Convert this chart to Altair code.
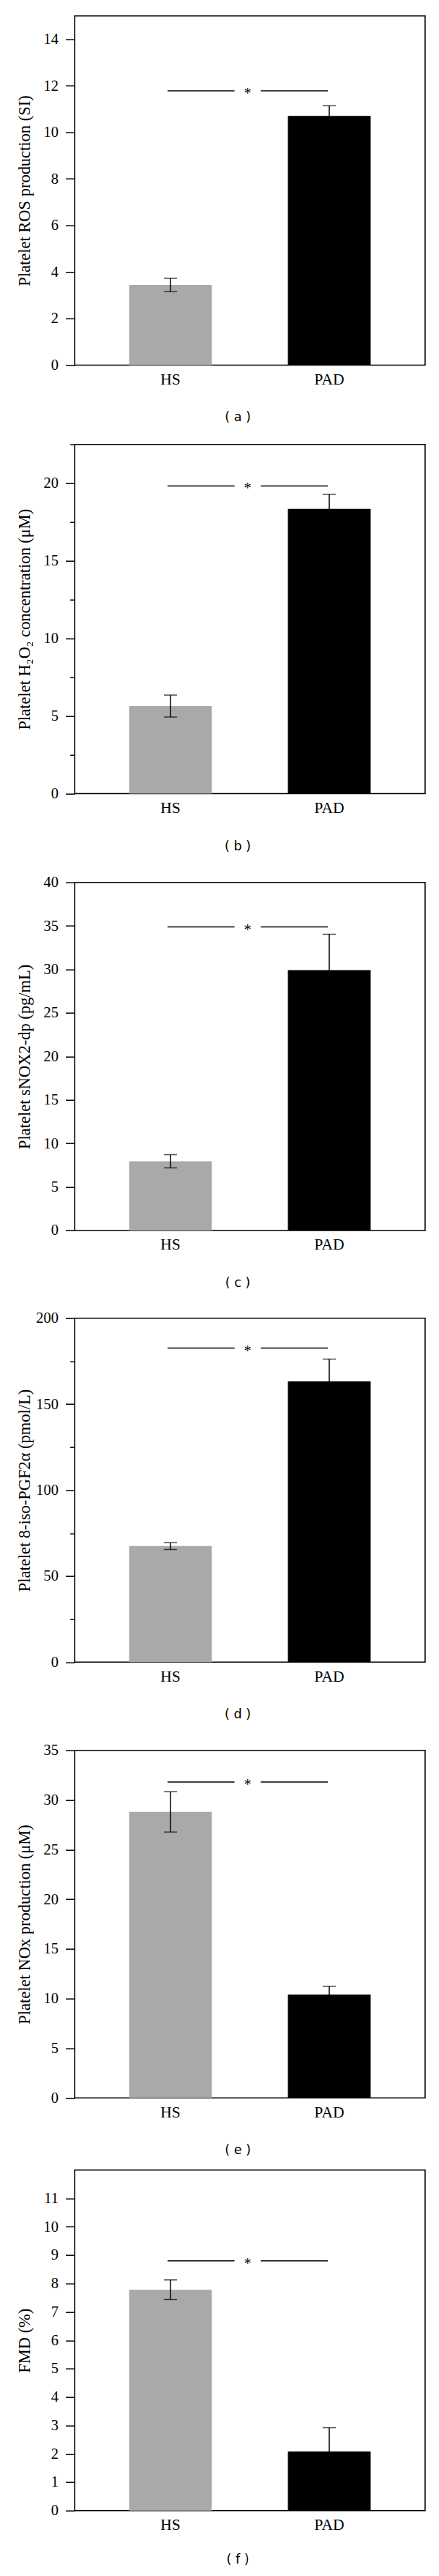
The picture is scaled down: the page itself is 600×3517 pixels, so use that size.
import altair as alt
import pandas as pd

# ---------------- data ----------------
groups = ["HS", "PAD"]
bar_colors = ["#a9a9a9", "#000000"]
captions = ["( a )", "( b )", "( c )", "( d )", "( e )", "( f )"]
y_titles = [
    "Platelet ROS production (SI)",
    "Platelet H\u2082O\u2082 concentration (\u03bcM)",
    "Platelet sNOX2-dp (pg/mL)",
    "Platelet 8-iso-PGF2\u03b1 (pmol/L)",
    "Platelet NOx production (\u03bcM)",
    "FMD (%)",
]
hs_mean = [3.44, 5.64, 7.95, 67.5, 28.8, 7.78]
hs_err = [0.285, 0.705, 0.76, 1.95, 2.03, 0.345]
pad_mean = [10.70, 18.34, 29.92, 163.2, 10.39, 2.08]
pad_err = [0.44, 0.94, 4.12, 13.0, 0.84, 0.84]
sig_level = [11.78, 19.82, 34.88, 182.6, 31.81, 8.80]
y_max = [15, 22.5, 40, 200, 35, 12]
ticks_a = [0, 2, 4, 6, 8, 10, 12, 14]
ticks_b = [0, 2.5, 5, 7.5, 10, 12.5, 15, 17.5, 20, 22.5]
ticks_c = [0, 5, 10, 15, 20, 25, 30, 35, 40]
ticks_d = [0, 25, 50, 75, 100, 125, 150, 175, 200]
ticks_e = [0, 5, 10, 15, 20, 25, 30, 35]
ticks_f = [0, 1, 2, 3, 4, 5, 6, 7, 8, 9, 10, 11]
tick_values = [ticks_a, ticks_b, ticks_c, ticks_d, ticks_e, ticks_f]
label_every = [2, 5, 5, 50, 5, 1]

# ---------------- layout (pixels) ----------------
widths = [479, 479, 479, 479, 479, 479]
heights = [476.7, 476.8, 475.3, 469.6, 474.5, 465]
cap_heights = [74.3, 77.3, 76.9, 77.2, 65.2, 50]
cap_y = [40, 40, 40, 40, 40, 35.5]
title_pad = [14, 14, 14, 3.75, 14, 14]
CAP_X = 223
PI = 0.479
PO = 0.343
SERIF = "Liberation Serif"


def panel(i):
    W, H = widths[i], heights[i]
    df = pd.DataFrame({
        "group": groups,
        "mean": [hs_mean[i], pad_mean[i]],
        "err": [hs_err[i], pad_err[i]],
    })
    df["lo"] = df["mean"] - df["err"]
    df["hi"] = df["mean"] + df["err"]
    sig = pd.DataFrame({"from": [groups[0]], "to": [groups[1]], "level": [sig_level[i]]})

    step = W / (2 - PI + 2 * PO)
    xscale = alt.Scale(domain=groups, paddingInner=PI, paddingOuter=PO)
    yscale = alt.Scale(domain=[0, y_max[i]], nice=False, zero=True)
    every = label_every[i]
    if every == (tick_values[i][1] - tick_values[i][0]):
        tsize = 12.5
        lexpr = "format(datum.value, 'd')"
    else:
        tsize = {"condition": {"test": f"datum.value % {every} != 0", "value": 6.5}, "value": 12.5}
        lexpr = f"datum.value % {every} == 0 ? format(datum.value, 'd') : ''"
    yaxis = alt.Axis(
        values=tick_values[i], labelExpr=lexpr, tickSize=tsize, tickWidth=1.5,
        tickColor="black", labelPadding=10, labelFont=SERIF, labelFontSize=20.5,
        labelColor="black", domain=False, grid=False, titleFont=SERIF,
        titleFontSize=22.5, titleFontWeight="normal", titleColor="black",
        titlePadding=title_pad[i],
    )
    xaxis = alt.Axis(
        ticks=False, domain=False, labelAngle=0, labelPadding=9, labelFont=SERIF,
        labelFontSize=21.5, labelColor="black", grid=False,
    )

    def X(field):
        return alt.X(field, type="nominal", scale=xscale, axis=xaxis, sort=groups, title=None)

    def Y(field):
        return alt.Y(field, type="quantitative", scale=yscale, axis=yaxis, title=y_titles[i])

    base = alt.Chart(df)
    bars = base.mark_bar().encode(
        x=X("group"), y=Y("mean"),
        color=alt.Color("group:N", scale=alt.Scale(domain=groups, range=bar_colors), legend=None),
    )
    stem = base.mark_rule(color="black", strokeWidth=1.5).encode(x=X("group"), y=Y("lo"), y2="hi")
    cap_hi = base.mark_tick(color="black", size=18, thickness=1.5).encode(x=X("group"), y=Y("hi"))
    cap_lo = base.mark_tick(color="black", size=18, thickness=1.5).encode(x=X("group"), y=Y("lo"))

    sbase = alt.Chart(sig)
    seg1 = sbase.mark_rule(color="black", strokeWidth=1.5, xOffset=-4,
                           x2Offset=-(step / 2 + 21)).encode(
        x=alt.X("from", type="nominal", scale=xscale, axis=xaxis, sort=groups, title=None, bandPosition=0.5),
        x2=alt.X2("to", bandPosition=0.5), y=Y("level"))
    seg2 = sbase.mark_rule(color="black", strokeWidth=1.5, xOffset=step / 2 + 15,
                           x2Offset=-2).encode(
        x=alt.X("from", type="nominal", scale=xscale, axis=xaxis, sort=groups, title=None, bandPosition=0.5),
        x2=alt.X2("to", bandPosition=0.5), y=Y("level"))
    star = sbase.mark_text(text="*", font=SERIF, fontSize=20, color="black",
                           baseline="alphabetic", dy=10, xOffset=step / 2 - 3).encode(
        x=X("from"), y=Y("level"))

    return alt.layer(bars, stem, cap_hi, cap_lo, seg1, seg2, star).properties(
        width=W, height=H,
        view=alt.ViewBackground(stroke="black", strokeWidth=1.5, fill="white"),
    )


def caption(i):
    d = pd.DataFrame({"t": [captions[i]]})
    return alt.Chart(d).mark_text(font="DejaVu Sans", fontSize=17.5, color="black",
                                  baseline="middle", align="center").encode(
        text="t:N", x=alt.value(CAP_X), y=alt.value(cap_y[i])
    ).properties(width=470, height=cap_heights[i],
                 view=alt.ViewBackground(strokeWidth=0, stroke="white"))


items = []
for i in range(6):
    items.append(panel(i))
    items.append(caption(i))

chart = alt.vconcat(*items, spacing=0).resolve_scale(
    x="independent", y="independent"
).properties(
    padding={"left": 13, "top": 12.7, "right": 5, "bottom": 0}
).configure_view(strokeWidth=0).configure(background="white")

chart.save("out.html", embed_options={"renderer": "svg", "actions": False})
